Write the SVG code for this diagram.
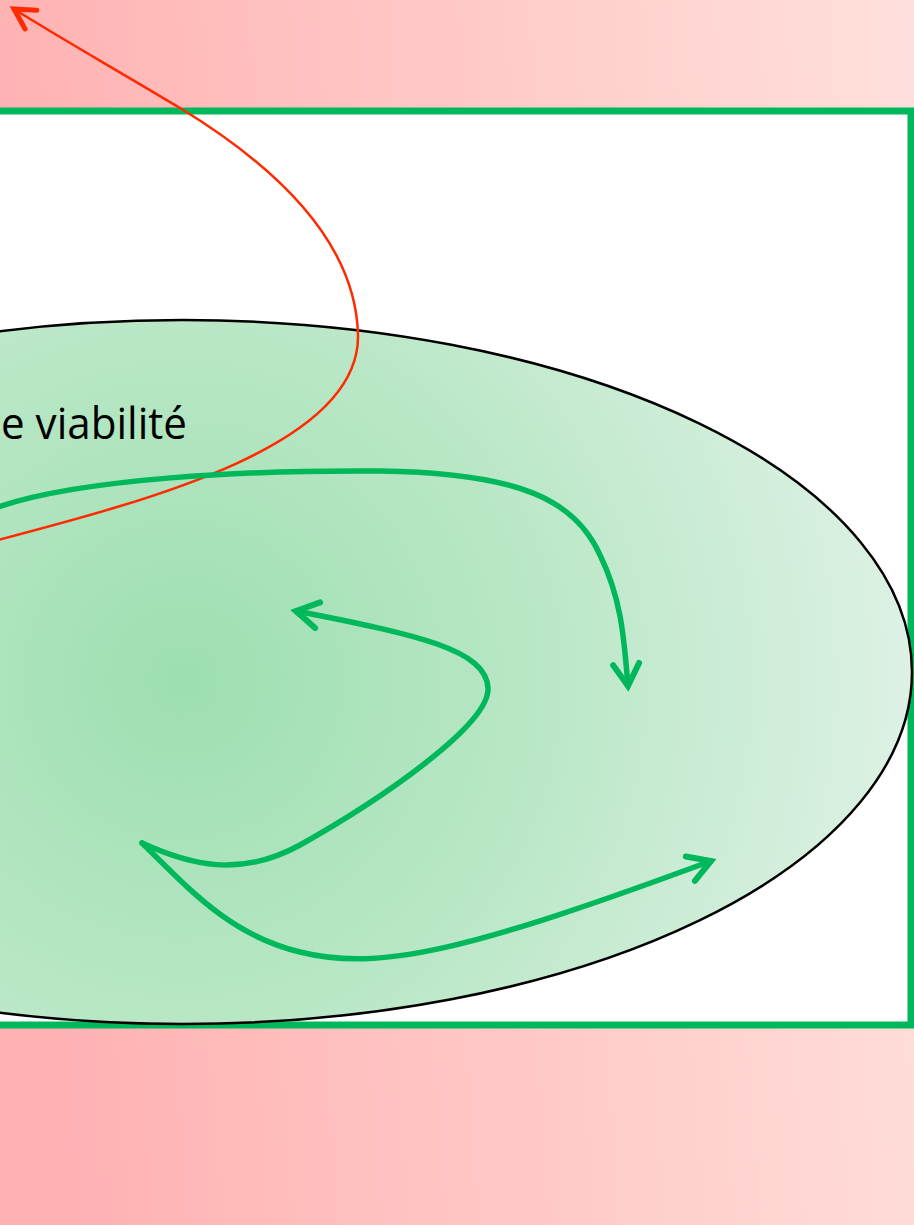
<svg xmlns="http://www.w3.org/2000/svg" width="914" height="1225" viewBox="0 0 914 1225">
<defs>
<linearGradient id="bg" x1="0" y1="0.1" x2="1" y2="0" >
<stop offset="0" stop-color="#ffb2b2"/>
<stop offset="1" stop-color="#ffe0dc"/>
</linearGradient>
<radialGradient id="eg" gradientUnits="userSpaceOnUse" cx="183" cy="680" r="730">
<stop offset="0" stop-color="#9ddfb0"/>
<stop offset="0.48" stop-color="#b9e7c6"/>
<stop offset="1" stop-color="#ddf1e4"/>
</radialGradient>
<marker id="ag" markerUnits="userSpaceOnUse" viewBox="-30 -20 40 40" refX="0" refY="0" markerWidth="40" markerHeight="40" orient="auto">
<path d="M-22 -13 L0 0 L-22 13" fill="none" stroke="#00b85c" stroke-width="6" stroke-linecap="round" stroke-linejoin="miter"/>
</marker>
<marker id="ar" markerUnits="userSpaceOnUse" viewBox="-30 -20 40 40" refX="0" refY="0" markerWidth="40" markerHeight="40" orient="auto">
<path d="M-20 -11 L0 0 L-20 11" fill="none" stroke="#ff2a00" stroke-width="5" stroke-linecap="round"/>
</marker>
<style>
.g{fill:none;stroke:#00b85c;stroke-width:5.5;stroke-linecap:round}
.r{fill:none;stroke:#ff2a00;stroke-width:2.5}
</style>
</defs>
<rect id="background" x="0" y="0" width="914" height="1225" fill="url(#bg)"/>
<g id="domain">
<rect x="-10" y="111" width="921" height="914" fill="#ffffff" stroke="#00b85c" stroke-width="7"/>
</g>
<g id="viability-kernel">
<ellipse cx="183" cy="672" rx="729" ry="352" fill="url(#eg)" stroke="#000000" stroke-width="2.5"/>
<text x="1" y="439" font-family="Open Sans, Liberation Sans, sans-serif" font-size="43" fill="#000000" textLength="186" lengthAdjust="spacingAndGlyphs">e viabilité</text>
</g>
<g id="connectors">
<path class="r" d="M -2 540 C 150 500 360 445 358 335 C 356 250 290 175 180 108 C 110 66 60 38 14 9" marker-end="url(#ar)"/>
<path class="g" d="M -5 508 C 80 478 250 470 380 471 C 520 473 575 500 600 555 C 622 600 624 640 628 686" marker-end="url(#ag)"/>
<path class="g" d="M 142 843 C 190 865 240 878 300 845 C 380 800 490 725 488 688 C 486 650 420 635 296 611" marker-end="url(#ag)"/>
<path class="g" d="M 142 843 C 190 890 230 935 300 952 C 380 972 470 950 711 861" marker-end="url(#ag)"/>
</g>
</svg>
